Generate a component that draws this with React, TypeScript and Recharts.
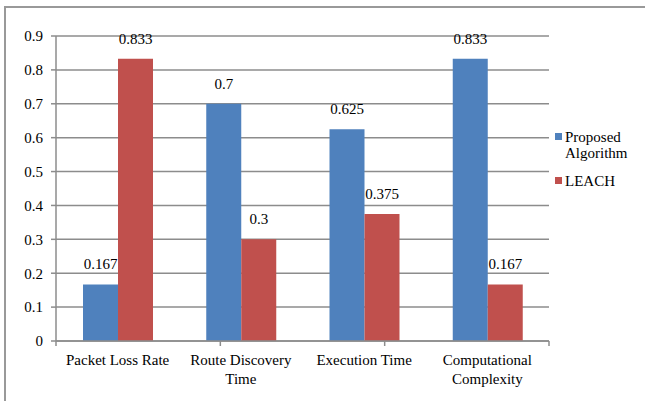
import React from "react";
import {
  BarChart,
  Bar,
  XAxis,
  YAxis,
  CartesianGrid,
  LabelList,
} from "recharts";

const categories = [
  "Packet Loss Rate",
  "Route Discovery\nTime",
  "Execution Time",
  "Computational\nComplexity",
];
const proposed = [0.167, 0.7, 0.625, 0.833];
const leach = [0.833, 0.3, 0.375, 0.167];
const yTicks = [0, 0.1, 0.2, 0.3, 0.4, 0.5, 0.6, 0.7, 0.8, 0.9];

const series = [
  { key: "proposed", name: "Proposed\nAlgorithm", color: "#4F81BD" },
  { key: "leach", name: "LEACH", color: "#C0504D" },
];

const FONT = "Liberation Serif, Times New Roman, serif";
const GRID = "#8c8c8c";

const data = categories.map((name, i) => ({
  name,
  proposed: proposed[i],
  leach: leach[i],
}));

// boundaries between categories, for the tick marks under the x axis
const bounds = [...categories.map((_, i) => i), categories.length];

function CategoryTick({ x, y, payload }: any) {
  const lines = String(payload.value).split("\n");
  return (
    <text x={x} y={y} textAnchor="middle" fill="#000" fontFamily={FONT} fontSize={15}>
      {lines.map((line, i) => (
        <tspan key={i} x={x} dy={i === 0 ? "0.71em" : 19}>
          {line}
        </tspan>
      ))}
    </text>
  );
}

function LegendBox() {
  return (
    <div
      style={{
        position: "absolute",
        left: 555,
        top: 129,
        fontFamily: FONT,
        fontSize: 15,
        lineHeight: "16px",
        color: "#000",
      }}
    >
      {series.map((s, i) => (
        <div key={s.key} style={{ display: "flex", alignItems: "flex-start", marginTop: i === 0 ? 0 : 12 }}>
          <div style={{ width: 7, height: 7, background: s.color, marginTop: 4, marginRight: 3, flex: "none" }} />
          <div style={{ whiteSpace: "pre" }}>{s.name}</div>
        </div>
      ))}
    </div>
  );
}

export default function App() {
  return (
    <div
      style={{
        position: "absolute",
        left: 0,
        top: 0,
        width: 645,
        height: 401,
        overflow: "hidden",
        background: "#fff",
      }}
    >
      <div
        style={{
          position: "absolute",
          left: 4,
          top: 6,
          width: 700,
          height: 500,
          borderLeft: "2px solid #999",
          borderTop: "2px solid #999",
        }}
      />
      <BarChart
        width={645}
        height={401}
        data={data}
        margin={{ top: 36, right: 96, bottom: 0, left: 0 }}
        barGap={0}
        style={{ position: "absolute", left: 0, top: 0 }}
      >
        <CartesianGrid xAxisId="cat" vertical={false} stroke={GRID} strokeWidth={1.5} />
        <XAxis
          xAxisId="bounds"
          type="number"
          domain={[0, categories.length]}
          ticks={bounds}
          allowDataOverflow
          height={1}
          tick={() => null}
          tickSize={5}
          tickLine={{ stroke: GRID, strokeWidth: 1.5 }}
          axisLine={{ stroke: GRID, strokeWidth: 1.5 }}
        />
        <XAxis
          xAxisId="cat"
          dataKey="name"
          height={59}
          axisLine={false}
          tickLine={false}
          tickSize={0}
          tickMargin={12}
          interval={0}
          tick={<CategoryTick />}
        />
        <YAxis
          width={56}
          domain={[0, 0.9]}
          ticks={yTicks}
          tickFormatter={(v: number) => String(v)}
          tickSize={5}
          tickMargin={8}
          tick={{ fill: "#000", fontFamily: FONT, fontSize: 15 }}
          tickLine={{ stroke: GRID, strokeWidth: 1.5 }}
          axisLine={{ stroke: GRID, strokeWidth: 1.5 }}
        />
        {series.map((s) => (
          <Bar
            key={s.key}
            xAxisId="cat"
            dataKey={s.key}
            fill={s.color}
            barSize={35}
            isAnimationActive={false}
          >
            <LabelList
              dataKey={s.key}
              position="top"
              offset={15}
              fill="#000"
              fontFamily={FONT}
              fontSize={15}
            />
          </Bar>
        ))}
      </BarChart>
      <LegendBox />
    </div>
  );
}
